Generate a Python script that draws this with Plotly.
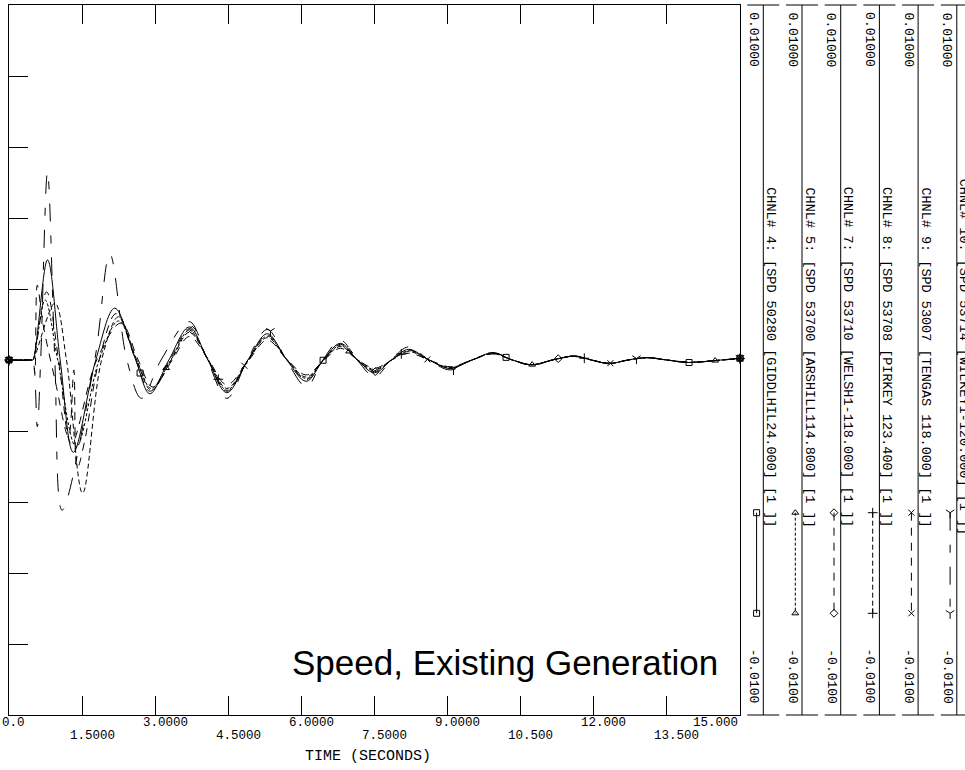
import numpy as np
import plotly.graph_objects as go

# ---------------- data ----------------
X_TICKS = [0.0, 1.5, 3.0, 4.5, 6.0, 7.5, 9.0, 10.5, 12.0, 13.5, 15.0]
X_TICK_LABELS = ["0.0", "1.5000", "3.0000", "4.5000", "6.0000", "7.5000",
                 "9.0000", "10.500", "12.000", "13.500", "15.000"]
Y_TICKS = [-0.010, -0.008, -0.006, -0.004, -0.002, 0.0, 0.002, 0.004, 0.006, 0.008, 0.010]
Y_MAX_LABEL = "0.01000"
Y_MIN_LABEL = "-0.0100"
X_TITLE = "TIME (SECONDS)"
CAPTION = "Speed, Existing Generation"

CHANNEL_NAMES = [
    "CHNL# 4: [SPD 50280 [GIDDLHIL24.000] [1 ]]",
    "CHNL# 5: [SPD 53700 [ARSHILL114.800] [1 ]]",
    "CHNL# 7: [SPD 53710 [WELSH1-118.000] [1 ]]",
    "CHNL# 8: [SPD 53708 [PIRKEY 123.400] [1 ]]",
    "CHNL# 9: [SPD 53007 [TENGAS 118.000] [1 ]]",
    "CHNL# 10: [SPD 53714 [WILKEY1-120.000] [1 ]]",
]

# values below are in units of 0.001 (pu speed deviation)
T_LATE = [3.70, 4.08, 4.47, 4.90, 5.30, 5.70, 6.10, 6.45, 6.80, 7.15, 7.50, 7.85,
          8.20, 8.62, 9.05, 9.50, 9.93, 10.33, 10.73, 11.15, 11.60, 11.95, 12.33,
          12.70, 13.09, 13.50, 13.94, 14.45, 15.00]

ch4_t = [0.0, 0.46, 0.49, 0.79, 1.05, 1.32, 1.78, 2.17, 2.60, 2.89, 3.28] + T_LATE
ch4_v = [0.0, 0.0, 0.0, 2.82, 0.0, -2.60, 0.0, 1.46, 0.0, -0.95, 0.0,
         0.93, 0.0, -0.92, 0.0, 0.74, 0.0, -0.60, 0.0, 0.47, 0.0, -0.36, 0.0, 0.30, 0.0,
         -0.24, 0.0, 0.20, 0.0, -0.14, 0.0, 0.11, 0.0, -0.10, 0.0, 0.07, 0.0, -0.07, -0.02, 0.05]

ch5_t = [0.0, 0.46, 0.49, 0.74, 1.00, 1.38, 1.85, 2.25, 2.62, 2.92, 3.32] + T_LATE
ch5_v = [0.0, 0.0, 0.0, 1.69, 0.0, -2.45, 0.0, 1.10, 0.0, -0.80, 0.0,
         0.84, 0.02, -0.85, -0.02, 0.67, 0.01, -0.52, -0.01, 0.41, 0.0, -0.30, 0.0, 0.26, 0.0,
         -0.22, 0.0, 0.19, 0.0, -0.13, 0.0, 0.11, 0.0, -0.09, 0.0, 0.06, 0.0, -0.07, -0.02, 0.04]

ch7_t = [0.0, 0.46, 0.49, 0.53, 0.58, 0.70, 0.95, 1.22, 1.33, 1.40, 1.55, 1.85,
         2.20, 2.60, 2.89, 3.30] + T_LATE
ch7_v = [0.0, 0.0, 0.0, -0.37, 2.11, 1.00, -0.60, -2.16, -0.28, -3.05, -2.30, 0.0,
         1.31, 0.0, -0.88, 0.0,
         0.88, 0.01, -0.88, -0.01, 0.70, 0.01, -0.55, 0.0, 0.44, 0.0, -0.33, 0.0, 0.28, 0.0,
         -0.23, 0.0, 0.19, 0.0, -0.14, 0.0, 0.11, 0.0, -0.10, 0.0, 0.06, 0.0, -0.07, -0.02, 0.05]

ch8_t = [0.0, 0.46, 0.49, 0.94, 1.18, 1.51, 1.90, 2.25, 2.62, 2.92, 3.33] + T_LATE
ch8_v = [0.0, 0.0, 0.0, 1.60, 0.0, -3.75, 0.0, 1.22, 0.0, -0.85, 0.0,
         0.78, 0.03, -0.80, -0.03, 0.63, 0.02, -0.48, -0.01, 0.38, 0.01, -0.27, 0.0, 0.24, 0.0,
         -0.21, 0.0, 0.18, 0.0, -0.13, 0.0, 0.10, 0.0, -0.09, 0.0, 0.06, 0.0, -0.06, -0.02, 0.04]

ch9_t = [0.0, 0.46, 0.49, 0.77, 1.02, 1.28, 1.80, 2.30, 2.65, 2.95, 3.35] + T_LATE
ch9_v = [0.0, 0.0, 0.0, 1.92, 0.0, -2.35, 0.0, 1.04, 0.0, -0.76, 0.0,
         0.66, 0.04, -0.70, -0.04, 0.56, 0.02, -0.42, -0.02, 0.33, 0.01, -0.23, 0.0, 0.19, 0.0,
         -0.19, 0.0, 0.17, 0.0, -0.13, 0.0, 0.10, 0.0, -0.09, 0.0, 0.06, 0.0, -0.06, -0.02, 0.04]

ch10_t = [0.0, 0.46, 0.49, 0.58, 0.65, 0.79, 0.94, 1.09, 1.76, 2.07, 2.42, 2.72, 3.12] + T_LATE
ch10_v = [0.0, 0.0, 0.0, -1.88, 0.0, 5.30, 0.0, -4.23, 0.0, 2.98, 0.0, -1.08, 0.0,
          1.08, -0.03, -1.08, 0.03, 0.86, -0.02, -0.75, 0.02, 0.56, -0.01, -0.47, 0.01, 0.37, 0.0,
          -0.28, 0.0, 0.21, 0.0, -0.15, 0.0, 0.12, 0.0, -0.11, 0.0, 0.07, 0.0, -0.08, -0.02, 0.05]

SERIES_T = [ch4_t, ch5_t, ch7_t, ch8_t, ch9_t, ch10_t]
SERIES_V = [ch4_v, ch5_v, ch7_v, ch8_v, ch9_v, ch10_v]
UNIT = 1e-3

# ---------------- styles ----------------
W, H = 965, 770
PL, PR, PT, PB = 9, 740, 5, 715          # plot area in pixels
XMIN, XMAX, YMIN, YMAX = 0.0, 15.0, -0.01, 0.01
DASHES = ["solid", "3px,2px", "8px,7px", "5px,3px", "8px,7px", "18px,14px,8px,14px"]
SYMBOLS = ["square-open", "triangle-up-open", "diamond-open", "cross-thin-open",
           "x-thin-open", "y-down-open"]
MSIZE = [6, 6, 6, 7, 6, 7]
MONO = "Liberation Mono"
BLACK = "#000000"

XS = (PR - PL) / (XMAX - XMIN)
YS = (PB - PT) / (YMAX - YMIN)


def plotly_spline(t, v):
    """Replicates plotly's spline (smoothing=1) in pixel space; returns dense path."""
    pts = np.column_stack([np.asarray(t) * XS, np.asarray(v) * YS])
    n = len(pts)
    tang = []
    for i in range(1, n - 1):
        p0, p1, p2 = pts[i - 1], pts[i], pts[i + 1]
        d1 = p0 - p1
        d2 = p2 - p1
        l1 = np.hypot(*d1)
        l2 = np.hypot(*d2)
        d1a, d2a = l1 ** 0.5, l2 ** 0.5
        num = l2 * d1 - l1 * d2
        den1 = 3 * d2a * (d1a + d2a)
        den2 = 3 * d1a * (d1a + d2a)
        cb = p1 + (num / den1 if den1 else 0)
        ca = p1 - (num / den2 if den2 else 0)
        tang.append((cb, ca))
    s = np.linspace(0, 1, 40)[:, None]
    segs = [(1 - s) ** 2 * pts[0] + 2 * (1 - s) * s * tang[0][0] + s ** 2 * pts[1]]
    for i in range(2, n - 1):
        P0, C1, C2, P3 = pts[i - 1], tang[i - 2][1], tang[i - 1][0], pts[i]
        segs.append((1 - s) ** 3 * P0 + 3 * (1 - s) ** 2 * s * C1
                    + 3 * (1 - s) * s ** 2 * C2 + s ** 3 * P3)
    segs.append((1 - s) ** 2 * pts[n - 2] + 2 * (1 - s) * s * tang[n - 3][1] + s ** 2 * pts[n - 1])
    d = np.vstack(segs)
    order = np.argsort(d[:, 0], kind="stable")
    return d[order, 0] / XS, d[order, 1] / YS


fig = go.Figure()

for k, (ts, vs) in enumerate(zip(SERIES_T, SERIES_V)):
    vals = [x * UNIT for x in vs]
    fig.add_trace(go.Scatter(
        x=ts, y=vals, mode="lines", xaxis="x", yaxis="y",
        line=dict(color=BLACK, width=1, dash=DASHES[k], shape="spline", simplify=False),
        hoverinfo="skip", showlegend=False))

for k, (ts, vs) in enumerate(zip(SERIES_T, SERIES_V)):
    vals = [x * UNIT for x in vs]
    dx, dy = plotly_spline(ts, vals)
    mt = [0.0]
    j = 0
    while True:
        tt = 2.69 + 0.535 * k + 3.755 * j
        if tt > 14.9:
            break
        mt.append(tt)
        j += 1
    mt.append(15.0)
    my = np.interp(mt, dx, dy)
    fig.add_trace(go.Scatter(
        x=mt, y=my, mode="markers", xaxis="x", yaxis="y", cliponaxis=False,
        marker=dict(symbol=SYMBOLS[k], size=MSIZE[k], color=BLACK,
                    line=dict(color=BLACK, width=1)),
        hoverinfo="skip", showlegend=False))

shapes = []
annotations = []
panel_x0, panel_dx = 763.3, 38.7
for k, name in enumerate(CHANNEL_NAMES):
    lx = panel_x0 + panel_dx * k
    shapes.append(dict(type="line", xref="x2", yref="y2", x0=lx, x1=lx, y0=PT, y1=PB,
                       line=dict(color=BLACK, width=1)))
    for yy in (PT, PB):
        shapes.append(dict(type="line", xref="x2", yref="y2", x0=lx - 16, x1=lx + 16,
                           y0=yy, y1=yy, line=dict(color=BLACK, width=1)))
    annotations.append(dict(x=lx - 9.5, y=40, xref="x2", yref="y2", text=Y_MAX_LABEL,
                            textangle=90, showarrow=False, xanchor="center", yanchor="middle",
                            font=dict(family=MONO, size=13, color=BLACK)))
    annotations.append(dict(x=lx - 9.5, y=676.5, xref="x2", yref="y2", text=Y_MIN_LABEL,
                            textangle=90, showarrow=False, xanchor="center", yanchor="middle",
                            font=dict(family=MONO, size=13, color=BLACK)))
    annotations.append(dict(x=lx + 7.5, y=357, xref="x2", yref="y2", text=name,
                            textangle=90, showarrow=False, xanchor="center", yanchor="middle",
                            font=dict(family=MONO, size=13.5, color=BLACK)))
    fig.add_trace(go.Scatter(
        x=[lx - 6.7, lx - 6.7], y=[512.7, 613.3], xaxis="x2", yaxis="y2",
        mode="lines+markers", cliponaxis=False,
        line=dict(color=BLACK, width=1, dash=DASHES[k]),
        marker=dict(symbol=SYMBOLS[k], size=MSIZE[k], color=BLACK,
                    line=dict(color=BLACK, width=1)),
        hoverinfo="skip", showlegend=False))

for i, (tv, lab) in enumerate(zip(X_TICKS, X_TICK_LABELS)):
    first = i == 0
    last = i == len(X_TICKS) - 1
    annotations.append(dict(x=tv, y=723 if i % 2 == 0 else 736, xref="x", yref="y2",
                            text=lab, showarrow=False,
                            xanchor="right" if last else ("left" if first else "center"),
                            xshift=0 if last else (-9 if first else 10), yanchor="middle",
                            font=dict(family=MONO, size=12.5, color=BLACK)))

annotations.append(dict(x=368, y=756, xref="x2", yref="y2", text=X_TITLE, showarrow=False,
                        xanchor="center", yanchor="middle",
                        font=dict(family=MONO, size=15, color=BLACK)))
annotations.append(dict(x=505, y=662, xref="x2", yref="y2", text=CAPTION, showarrow=False,
                        xanchor="center", yanchor="middle",
                        font=dict(family="Liberation Sans", size=35, color=BLACK)))

fig.update_layout(
    width=W, height=H, margin=dict(l=0, r=0, t=0, b=0, pad=0),
    paper_bgcolor="white", plot_bgcolor="rgba(0,0,0,0)", showlegend=False,
    xaxis=dict(domain=[PL / W, PR / W], range=[XMIN, XMAX], tickvals=X_TICKS,
               ticks="inside", ticklen=19, tickwidth=1, tickcolor=BLACK,
               showticklabels=False, showline=True, linecolor=BLACK, linewidth=1,
               mirror="ticks", showgrid=False, zeroline=False, anchor="y"),
    yaxis=dict(domain=[(H - PB) / H, (H - PT) / H], range=[YMIN, YMAX], tickvals=Y_TICKS,
               ticks="inside", ticklen=19, tickwidth=1, tickcolor=BLACK,
               showticklabels=False, showline=True, linecolor=BLACK, linewidth=1,
               mirror=True, showgrid=False, zeroline=False, anchor="x"),
    xaxis2=dict(domain=[0, 1], range=[0, W], visible=False, anchor="y2"),
    yaxis2=dict(domain=[0, 1], range=[H, 0], visible=False, anchor="x2"),
    shapes=shapes, annotations=annotations,
)

fig.write_html("out.html")
